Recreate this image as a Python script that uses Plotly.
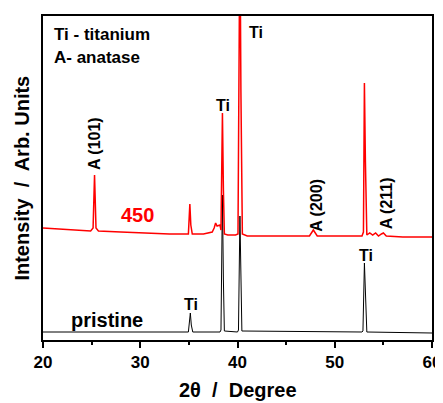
import plotly.graph_objects as go

# Pristine Ti (black) – 2theta vertices and intensities (arb. units)
black_x = [20, 30, 34.95, 35.15, 35.25, 35.4, 38.2, 38.3, 38.45, 38.55, 38.65,
           40.0, 40.1, 40.25, 40.35, 40.45, 52.8, 52.9, 53.05, 53.15, 53.3, 60]
black_y = [8, 8, 8, 27, 15, 8, 8, 10, 145, 60, 9,
           8, 10, 124, 55, 9, 8, 9, 77, 40, 8, 7]

# Annealed 450 (red)
red_x = [20, 22, 24, 24.9, 25.15, 25.3, 25.45, 25.7, 28, 30, 33, 34.95, 35.1, 35.2, 35.35,
         36.5, 37.0, 37.4, 37.6, 37.75, 37.9, 38.2, 38.3, 38.45, 38.55, 38.65, 39.0, 39.8,
         40.05, 40.25, 40.35, 40.5, 41, 44, 47.4, 47.8, 48.2, 50, 52.8, 52.95, 53.05, 53.15,
         53.3, 53.6, 53.9, 54.2, 54.5, 54.8, 55.0, 55.3, 57, 60]
red_y = [112, 111, 110, 109, 112, 165, 112, 109, 108, 107, 106, 106, 136, 115, 106,
         106, 107, 108, 112, 117, 114, 115, 110, 227, 150, 106, 105, 105,
         106, 420, 250, 106, 104, 104, 104, 110, 104, 104, 104, 108, 257, 180,
         105, 107, 105, 107, 104, 106, 107, 104, 103, 103]

x_ticks = [20, 30, 40, 50, 60]
x_tick_text = ["20", "30", "40", "50", "60"]

FONT = "Liberation Sans, Arial, sans-serif"

fig = go.Figure()
fig.add_trace(go.Scatter(x=black_x, y=black_y, mode="lines",
                         line=dict(color="black", width=1), showlegend=False))
fig.add_trace(go.Scatter(x=red_x, y=red_y, mode="lines",
                         line=dict(color="#ff0000", width=1.5), showlegend=False))

def label(x, y, text, color="black", size=16, angle=0, xanchor="center", xref="x", yref="y"):
    fig.add_annotation(x=x, y=y, text=f"<b>{text}</b>", showarrow=False, xref=xref, yref=yref,
                       textangle=angle, xanchor=xanchor, yanchor="middle",
                       font=dict(family=FONT, size=size, color=color))

label(41.9, 308, "Ti")
label(38.5, 235, "Ti")
label(35.2, 36, "Ti")
label(53.2, 85, "Ti")
label(25.25, 196, "A (101)", angle=-90)
label(48.05, 135, "A (200)", angle=-90)
label(55.3, 137, "A (211)", angle=-90)
label(29.7, 125, "450", color="#ff0000", size=20)
label(26.6, 20, "pristine", size=20)
label(20.9, 306, "Ti - titanium", xanchor="left", size=17)
label(20.9, 283, "A- anatase", xanchor="left", size=17)

# axis titles
fig.add_annotation(x=0.5, y=-0.155, xref="paper", yref="paper", showarrow=False,
                   text="<b>2θ  /  Degree</b>", xanchor="center", yanchor="middle",
                   font=dict(family=FONT, size=20, color="black"))
fig.add_annotation(x=-0.055, y=0.5, xref="paper", yref="paper", showarrow=False,
                   text="<b>Intensity  /  Arb. Units</b>", xanchor="center", yanchor="middle",
                   textangle=-90, font=dict(family=FONT, size=20, color="black"))

# page body has an 8px margin, so the figure is sized/offset to compensate
fig.update_layout(
    width=435, height=395,
    margin=dict(l=35, r=11, t=8, b=63),
    paper_bgcolor="white", plot_bgcolor="white",
    font=dict(family=FONT, color="black"),
    xaxis=dict(range=[20, 60], tickvals=x_ticks, ticktext=[f"<b>{t}</b>" for t in x_tick_text],
               ticks="outside", ticklen=6, tickwidth=2,
               tickcolor="black", showline=True, linecolor="black", linewidth=2, mirror=True,
               showgrid=False, zeroline=False, automargin=False,
               tickfont=dict(family=FONT, size=17, color="black"),
               minor=dict(tickvals=[25, 35, 45, 55], ticks="outside", ticklen=3, tickwidth=2,
                          tickcolor="black", showgrid=False)),
    yaxis=dict(range=[0, 324], showticklabels=False, ticks="", showline=True, linecolor="black",
               linewidth=2, mirror=True, showgrid=False, zeroline=False, automargin=False),
)

fig.write_html("out.html")
